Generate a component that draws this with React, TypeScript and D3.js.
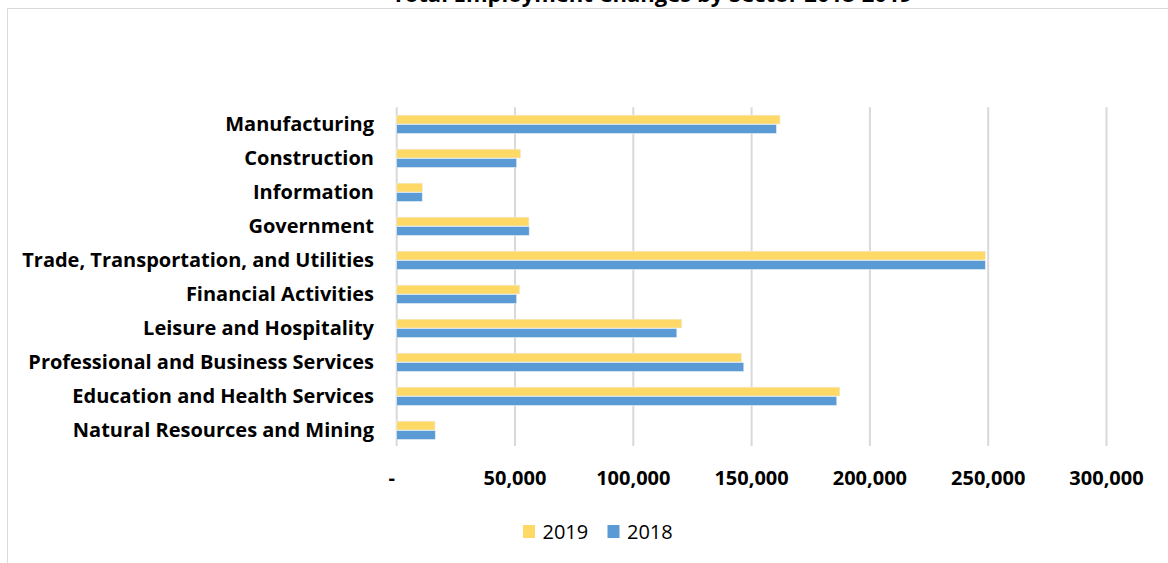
import React from "react";
import * as d3 from "d3";

const categories = [
  "Manufacturing",
  "Construction",
  "Information",
  "Government",
  "Trade, Transportation, and Utilities",
  "Financial Activities",
  "Leisure and Hospitality",
  "Professional and Business Services",
  "Education and Health Services",
  "Natural Resources and Mining",
];
const values2019 = [162000, 52400, 10900, 55900, 248800, 52000, 120500, 145700, 187300, 16200];
const values2018 = [160500, 50700, 10800, 56000, 248800, 50700, 118400, 146700, 186000, 16300];
const seriesNames = ["2019", "2018"];
const seriesColors = ["#FFD966", "#5B9BD5"];
const xTicks = [0, 50000, 100000, 150000, 200000, 250000, 300000];
const title = "Total Employment Changes by Sector 2018-2019";

const W = 1168;
const H = 563;
const FONT = "'Open Sans', 'DejaVu Sans', sans-serif";

export default function App() {
  const x = d3.scaleLinear().domain([0, 300000]).range([396.7, 1106.5]);
  const y = d3
    .scaleBand<string>()
    .domain(categories)
    .range([107.3, 447.3])
    .paddingInner(0.46)
    .paddingOuter(0.23);
  const inner = d3
    .scaleBand<string>()
    .domain(seriesNames)
    .range([0, y.bandwidth()])
    .paddingInner(0.06);
  const series = [values2019, values2018];
  const fmt = d3.format(",");

  return (
    <svg
      width={W}
      height={H}
      style={{ position: "absolute", left: 0, top: 0, background: "#fff" }}
      fontFamily={FONT}
    >
      <rect x={0} y={0} width={W} height={H} fill="#fff" />
      {/* chart frame */}
      <line x1={7.5} x2={W} y1={8.5} y2={8.5} stroke="#d9d9d9" strokeWidth={1} />
      <line x1={7.5} x2={7.5} y1={8.5} y2={H} stroke="#d9d9d9" strokeWidth={1} />
      {/* title (top cut off, as in the reference) */}
      <text
        x={652}
        y={1.7}
        textAnchor="middle"
        fontSize={22}
        fontWeight="bold"
        fill="#000"
      >
        {title}
      </text>
      {/* gridlines */}
      {xTicks.map((t) => (
        <line
          key={"g" + t}
          x1={x(t)}
          x2={x(t)}
          y1={107.3}
          y2={446}
          stroke="#d9d9d9"
          strokeWidth={2}
        />
      ))}
      {/* bars */}
      {categories.map((c, i) => (
        <g key={c} transform={`translate(0,${y(c)})`}>
          {seriesNames.map((s, k) => (
            <rect
              key={s}
              x={x(0)}
              y={inner(s)}
              width={x(series[k][i]) - x(0)}
              height={inner.bandwidth()}
              fill={seriesColors[k]}
              stroke="#e8eef6"
              strokeWidth={0.6}
            />
          ))}
        </g>
      ))}
      {/* category labels */}
      {categories.map((c) => (
        <text
          key={"l" + c}
          x={374}
          y={(y(c) as number) + y.bandwidth() / 2 + 7}
          textAnchor="end"
          fontSize={20}
          fontWeight="bold"
          fill="#000"
        >
          {c}
        </text>
      ))}
      {/* x tick labels */}
      {xTicks.map((t) => (
        <text
          key={"t" + t}
          x={t === 0 ? x(t) - 5 : x(t)}
          y={485}
          textAnchor="middle"
          fontSize={20}
          fontWeight="bold"
          fill="#000"
        >
          {t === 0 ? "-" : fmt(t)}
        </text>
      ))}
      {/* legend */}
      {seriesNames.map((s, k) => {
        const lx = k === 0 ? 523 : 607.5;
        return (
          <g key={"lg" + s}>
            <rect x={lx} y={525} width={12} height={13} fill={seriesColors[k]} />
            <text x={lx + 19.5} y={539} fontSize={20} fill="#000">
              {s}
            </text>
          </g>
        );
      })}
    </svg>
  );
}
